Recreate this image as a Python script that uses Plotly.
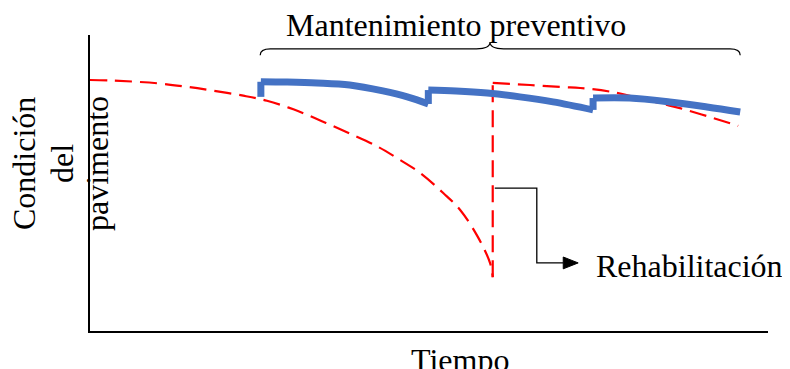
import plotly.graph_objects as go

# ---- data (time 0-100, condition 0-100) ----
# deterioration without maintenance
deterioro_t = [0, 3.4, 9.9, 14.3, 18.1, 22.6, 26.1, 30.1, 34.2, 38.3, 42.5, 45.3, 48.7, 52.1, 54.6, 57.2, 59.0, 59.4]
deterioro_c = [84.8, 84.6, 83.7, 82.5, 81.2, 79.5, 77.8, 74.8, 70.9, 66.7, 62.2, 58.4, 53.4, 46.6, 40.9, 31.8, 23.0, 18.2]
# after rehabilitation
rehab_t = [59.4, 64.9, 69.8, 72.3, 77.1, 84.5, 87.0, 91.0, 95.6]
rehab_c = [83.8, 83.1, 82.4, 82.1, 80.7, 76.7, 75.3, 72.6, 69.3]

# preventive maintenance (three treatment cycles)
prev_inicio_c = 79.1
prev1_t = [25.2, 29.0, 33.5, 38.3, 43.2, 46.8, 49.9]
prev1_c = [84.2, 84.1, 83.8, 83.1, 81.1, 79.1, 76.7]
prev2_t = [49.9, 54.0, 58.6, 63.4, 68.3, 74.2]
prev2_c = [81.4, 81.1, 80.4, 79.1, 77.4, 74.7]
prev3_t = [74.2, 79.6, 85.5, 91.0, 95.9]
prev3_c = [78.7, 78.7, 77.4, 75.7, 74.0]

title_text = "Mantenimiento preventivo"
ylabel_lines = ["Condición", "del", "pavimento"]
xlabel_text = "Tiempo"
rehab_text = "Rehabilitación"

# ---- layout geometry (page body has an 8px margin) ----
OFF = 8
W, H = 790 - OFF, 369 - OFF
L, R, T, B = 90 - OFF, 22, 35 - OFF, 38
PW, PH = W - L - R, H - T - B


def px(x):
    return (x - OFF - L) / PW


def py(y):
    return (H - B - (y - OFF)) / PH


FONT = "Liberation Serif, Times New Roman, serif"
RED = dict(color="#FF0000", width=2.2, dash="17px,8px")
BLUE = dict(color="#4472C4", width=7)

fig = go.Figure()
# red: deterioration, vertical rehabilitation jump, new deterioration
fig.add_trace(go.Scatter(x=deterioro_t, y=deterioro_c, mode="lines", line=dict(shape="spline", **RED),
                         cliponaxis=False, hoverinfo="skip"))
fig.add_trace(go.Scatter(x=[deterioro_t[-1], rehab_t[0]], y=[deterioro_c[-1], rehab_c[0]], mode="lines",
                         line=RED, cliponaxis=False, hoverinfo="skip"))
fig.add_trace(go.Scatter(x=rehab_t, y=rehab_c, mode="lines", line=dict(shape="spline", **RED),
                         cliponaxis=False, hoverinfo="skip"))

# blue: preventive maintenance
segs = [(prev1_t, prev1_c), (prev2_t, prev2_c), (prev3_t, prev3_c)]
jumps_t = [[prev1_t[0], prev1_t[0]], [prev1_t[-1], prev2_t[0]], [prev2_t[-1], prev3_t[0]]]
jumps_c = [[prev_inicio_c, prev1_c[0]], [prev1_c[-1], prev2_c[0]], [prev2_c[-1], prev3_c[0]]]
for jt, jc in zip(jumps_t, jumps_c):
    fig.add_trace(go.Scatter(x=jt, y=jc, mode="lines", line=BLUE, cliponaxis=False, hoverinfo="skip"))
for st, sc in segs:
    fig.add_trace(go.Scatter(x=st, y=sc, mode="lines", line=dict(shape="spline", **BLUE),
                             cliponaxis=False, hoverinfo="skip"))

# bracket over preventive maintenance
bx0, bxm, bx1 = 25.1, 59.0, 95.9
by_end, by_mid, by_tip = 93.2, 95.3, 97.6
bracket = (f"M {bx0},{by_end} Q {bx0},{by_mid} {bx0+1.5},{by_mid} L {bxm-2},{by_mid} "
           f"Q {bxm},{by_mid} {bxm},{by_tip} Q {bxm},{by_mid} {bxm+2},{by_mid} "
           f"L {bx1-1.5},{by_mid} Q {bx1},{by_mid} {bx1},{by_end}")
fig.add_shape(type="path", path=bracket, xref="x", yref="y",
              line=dict(color="black", width=1.2))

# rehabilitation connector
ct0, ct1, ct2, ctip = 59.7, 65.9, 69.8, 72.0
cc0, cc1 = 48.3, 23.0
fig.add_shape(type="path", xref="x", yref="y",
              path=f"M {ct0},{cc0} L {ct1},{cc0} L {ct1},{cc1} L {ct2},{cc1}",
              line=dict(color="black", width=1.3))
fig.add_shape(type="path", xref="x", yref="y",
              path=f"M {ct2},{cc1+2.0} L {ctip},{cc1} L {ct2},{cc1-2.0} Z",
              line=dict(color="black", width=1), fillcolor="black")

ann = [
    dict(text=title_text, x=px(456), y=py(25), xanchor="center", yanchor="middle"),
    dict(text=rehab_text, x=px(594), y=py(266), xanchor="left", yanchor="middle"),
    dict(text=xlabel_text, x=px(460), y=py(360), xanchor="center", yanchor="middle"),
]
for txt, xc in zip(ylabel_lines, [24, 62, 97]):
    ann.append(dict(text=txt, x=px(xc), y=py(164), xanchor="center", yanchor="middle", textangle=-90))
for a in ann:
    fig.add_annotation(xref="paper", yref="paper", showarrow=False,
                       font=dict(family=FONT, size=32, color="black"), **a)

ax_common = dict(showgrid=False, zeroline=False, showticklabels=False, ticks="",
                 showline=True, linecolor="black", linewidth=1.5, fixedrange=True)
fig.update_layout(
    width=W, height=H, margin=dict(l=L, r=R, t=T, b=B),
    paper_bgcolor="white", plot_bgcolor="white", showlegend=False,
    xaxis=dict(range=[0, 100], **ax_common),
    yaxis=dict(range=[0, 100], **ax_common),
)
fig.write_html("out.html")
